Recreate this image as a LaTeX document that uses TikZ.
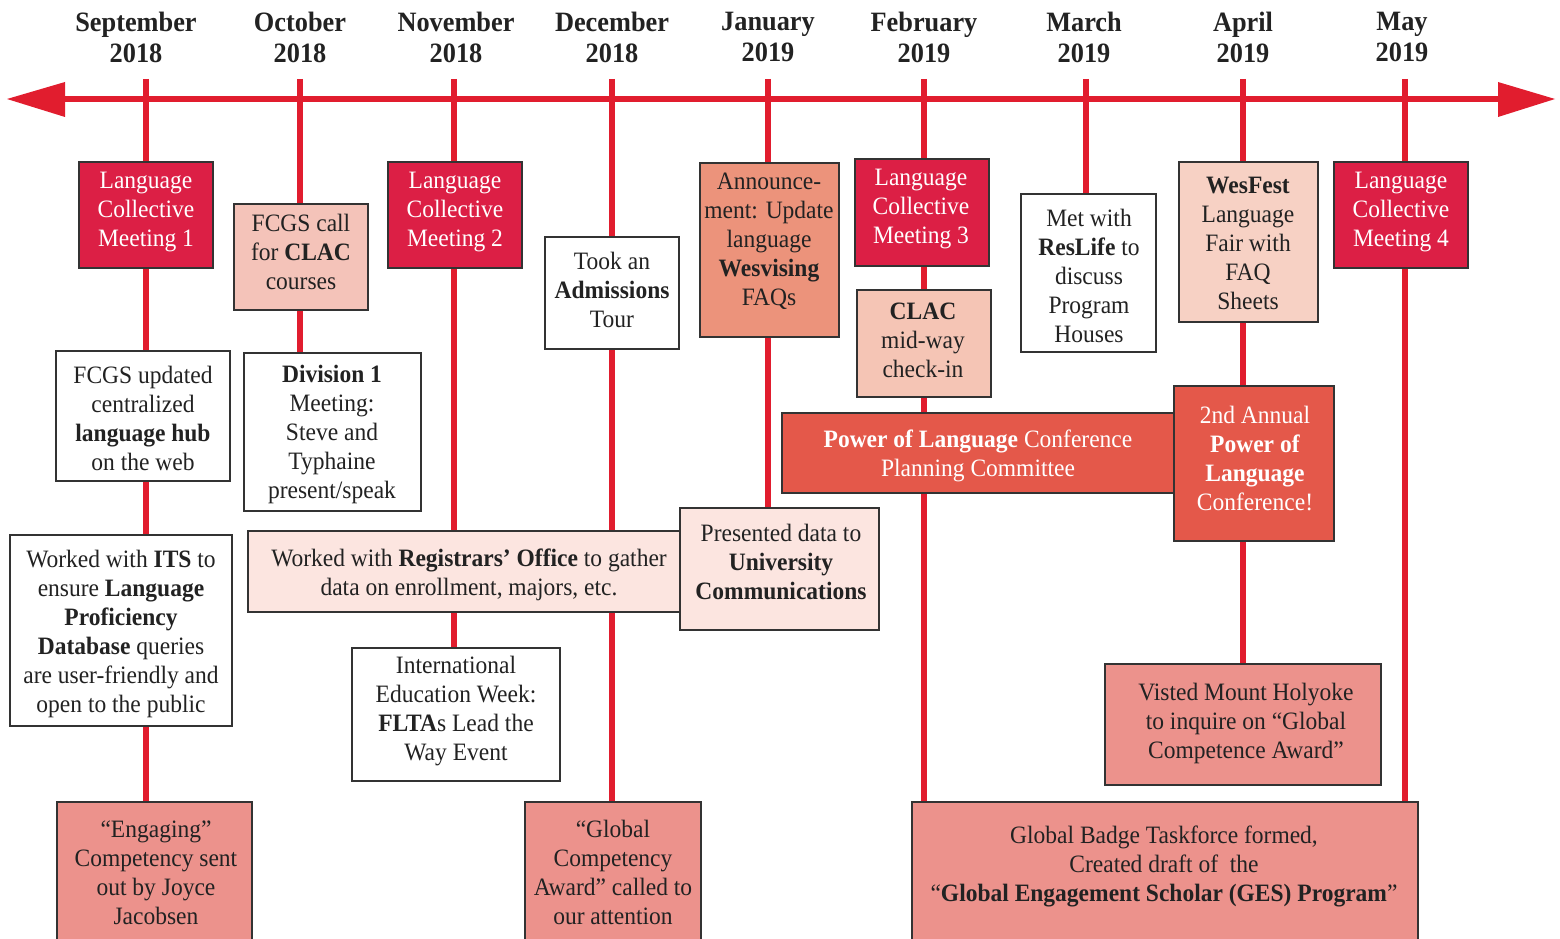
\documentclass[tikz,border=0pt]{standalone}
\usepackage{fontspec}
\setmainfont{Liberation Serif}[FakeStretch=0.94]
\usetikzlibrary{backgrounds}
\definecolor{linered}{HTML}{E11D2E}
\definecolor{crimson}{HTML}{DC1F45}
\definecolor{pinkA}{HTML}{F4C3B9}
\definecolor{salmon}{HTML}{EC937B}
\definecolor{clacc}{HTML}{F5C5B5}
\definecolor{wesc}{HTML}{F7D1C4}
\definecolor{powerc}{HTML}{E4584A}
\definecolor{palepink}{HTML}{FCE5E0}
\definecolor{rosec}{HTML}{EC928C}
\definecolor{boxline}{HTML}{333333}
\definecolor{ink}{HTML}{222222}
\tikzset{
  boxshape/.style={draw=boxline, line width=2.4pt, anchor=north west, inner sep=0pt, outer sep=0pt, rectangle},
  txt/.style={align=center, inner sep=0pt, text=ink, yshift=-2.5pt, font=\fontsize{25}{29}\selectfont},
  wtxt/.style={txt, text=white},
  month/.style={align=center, inner sep=0pt, text=ink, font=\bfseries\fontsize{28}{31}\selectfont},
  vline/.style={draw=linered, line width=5.5pt},
  axisline/.style={draw=linered, line width=6pt},
}
\newcommand\ebox[6]{\node[boxshape,fill=#6,minimum width={#4-#2},minimum height={#5-#3}] (#1) at (#2,#3) {};}
\begin{document}
\begin{tikzpicture}[x=1pt,y=-1pt]
\useasboundingbox (0,0) rectangle (1560,939);
% months
\node[month] (mSep) at (136,37) {September\\2018};
\node[month] (mOct) at (300,37) {October\\2018};
\node[month] (mNov) at (456,37) {November\\2018};
\node[month] (mDec) at (612,37) {December\\2018};
\node[month] (mJan) at (768,37) {January\\2019};
\node[month] (mFeb) at (924,37) {February\\2019};
\node[month] (mMar) at (1084,37) {March\\2019};
\node[month] (mApr) at (1243,37) {April\\2019};
\node[month] (mMay) at (1402,37) {May\\2019};
% tick tops
\coordinate (tSep) at (146,79);
\coordinate (tOct) at (300,79);
\coordinate (tNov) at (454,79);
\coordinate (tDec) at (612,79);
\coordinate (tJan) at (768,79);
\coordinate (tFeb) at (924,79);
\coordinate (tMar) at (1086,79);
\coordinate (tApr) at (1243,79);
\coordinate (tMay) at (1405,79);
% boxes
\ebox{lc1}{79}{162}{213}{268}{crimson}
\ebox{fcall}{234}{204}{368}{310}{pinkA}
\ebox{lc2}{388}{162}{522}{268}{crimson}
\ebox{tour}{545}{237}{679}{349}{white}
\ebox{ann}{700}{163}{839}{337}{salmon}
\ebox{lc3}{855}{159}{989}{266}{crimson}
\ebox{clac}{857}{290}{991}{397}{clacc}
\ebox{met}{1021}{194}{1156}{352}{white}
\ebox{wes}{1179}{162}{1318}{322}{wesc}
\ebox{lc4}{1334}{162}{1468}{268}{crimson}
\ebox{hub}{56}{351}{230}{481}{white}
\ebox{div}{244}{353}{421}{511}{white}
\ebox{plan}{782}{413}{1175}{493}{powerc}
\ebox{conf}{1174}{386}{1334}{541}{powerc}
\ebox{its}{10}{535}{232}{726}{white}
\ebox{reg}{248}{531}{682}{612}{palepink}
\ebox{pres}{680}{508}{879}{630}{palepink}
\ebox{iew}{352}{648}{560}{781}{white}
\ebox{mh}{1105}{664}{1381}{785}{rosec}
\ebox{eng}{57}{802}{252}{960}{rosec}
\ebox{gca}{525}{802}{701}{960}{rosec}
\ebox{gbt}{912}{802}{1418}{960}{rosec}
% texts
\node[wtxt] (lc1-t) at (146,210) {Language\\Collective\\Meeting 1};
\node[txt] (fcall-t) at (301,249) {FCGS call\\for \textbf{CLAC}\\courses};
\node[wtxt] (lc2-t) at (455,210) {Language\\Collective\\Meeting 2};
\node[txt] (tour-t) at (612,287) {Took an\\\textbf{Admissions}\\Tour};
\node[txt] (ann-t) at (769,239) {Announce-\\ment: Update\\language\\\textbf{Wesvising}\\FAQs};
\node[wtxt] (lc3-t) at (921,207) {Language\\Collective\\Meeting 3};
\node[txt] (clac-t) at (923,338) {\textbf{CLAC}\\mid-way\\check-in};
\node[txt] (met-t) at (1089,273) {Met with\\\textbf{ResLife} to\\discuss\\Program\\Houses};
\node[txt] (wes-t) at (1248,241) {\textbf{WesFest}\\Language\\Fair with\\FAQ\\Sheets};
\node[wtxt] (lc4-t) at (1401,210) {Language\\Collective\\Meeting 4};
\node[txt] (hub-t) at (143,416) {FCGS updated\\centralized\\\textbf{language hub}\\on the web};
\node[txt] (div-t) at (332,432) {\textbf{Division 1}\\Meeting:\\Steve and\\Typhaine\\present/speak};
\node[wtxt] (plan-t) at (978,453) {\textbf{Power of Language} Conference\\Planning Committee};
\node[wtxt] (conf-t) at (1255,456) {2nd Annual\\\textbf{Power of}\\\textbf{Language}\\Conference!};
\node[txt] (its-t) at (121,631) {Worked with \textbf{ITS} to\\ensure \textbf{Language}\\\textbf{Proficiency}\\\textbf{Database} queries\\are user-friendly and\\open to the public};
\node[txt] (reg-t) at (469,572) {Worked with \textbf{Registrars’ Office} to gather\\data on enrollment, majors, etc.};
\node[txt] (pres-t) at (781,559) {Presented data to\\\textbf{University}\\\textbf{Communications}};
\node[txt] (iew-t) at (456,709) {International\\Education Week:\\\textbf{FLTA}s Lead the\\Way Event};
\node[txt] (mh-t) at (1246,721) {Visted Mount Holyoke\\to inquire on “Global\\Competence Award”};
\node[txt] (eng-t) at (156,870) {“Engaging”\\Competency sent\\out by Joyce\\Jacobsen};
\node[txt] (gca-t) at (613,870) {“Global\\Competency\\Award” called to\\our attention};
\node[txt] (gbt-t) at (1164,864) {Global Badge Taskforce formed,\\Created draft of\ \ the\\“\textbf{Global Engagement Scholar (GES) Program}”};
% axis and lines
\begin{scope}[on background layer]
\coordinate (axL) at (64,99);
\coordinate (axR) at (1499,99);
\draw[axisline] (axL) -- (axR);
\fill[linered] (7,99) -- (65,82) -- (65,117) -- cycle;
\fill[linered] (1555,99) -- (1498,82) -- (1498,117) -- cycle;
\draw[vline] (tSep) -- (tSep |- eng.north);
\draw[vline] (tOct) -- (tOct |- div.north);
\draw[vline] (tNov) -- (tNov |- iew.north);
\draw[vline] (tDec) -- (tDec |- gca.north);
\draw[vline] (tJan) -- (tJan |- pres.north);
\draw[vline] (tFeb) -- (tFeb |- gbt.north);
\draw[vline] (tMar) -- (tMar |- met.north);
\draw[vline] (tApr) -- (tApr |- mh.north);
\draw[vline] (tMay) -- (tMay |- gbt.north);
\end{scope}
\end{tikzpicture}
\end{document}
